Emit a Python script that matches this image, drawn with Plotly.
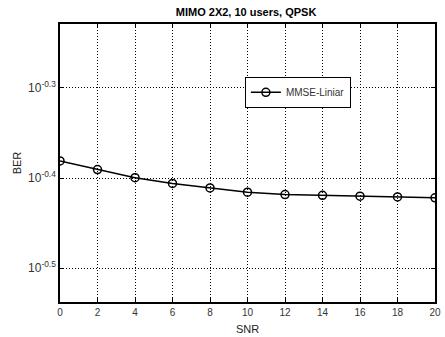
import plotly.graph_objects as go

snr = [0, 2, 4, 6, 8, 10, 12, 14, 16, 18, 20]
ber = [0.4159, 0.4068, 0.3984, 0.3926, 0.3881, 0.3839, 0.3816, 0.3809, 0.3800, 0.3793, 0.3784]

ytick_vals = [10 ** -0.5, 10 ** -0.4, 10 ** -0.3]
ytick_text = ["10<sup>-0.5</sup>", "10<sup>-0.4</sup>", "10<sup>-0.3</sup>"]
xtick_vals = list(range(0, 21, 2))

FONT = "Liberation Sans, Arial"

fig = go.Figure()
fig.add_trace(go.Scatter(
    x=snr, y=ber, mode="lines+markers", name="MMSE-Liniar",
    line=dict(color="black", width=1.5),
    marker=dict(symbol="circle-open", size=8, color="black", line=dict(width=1.5)),
))

axis_common = dict(
    showline=True, linecolor="black", linewidth=1.5, mirror="ticks",
    ticks="inside", ticklen=4, tickcolor="black",
    showgrid=True, gridcolor="black", griddash="1px,2px", gridwidth=0.8,
    zeroline=False, automargin=False,
)

fig.update_xaxes(
    range=[0, 20], tickvals=xtick_vals,
    tickfont=dict(family=FONT, size=10, color="#333"),
    title=dict(text="SNR", font=dict(family=FONT, size=11, color="#222"), standoff=9),
    **axis_common,
)
fig.update_yaxes(
    type="log", range=[-0.5376, -0.2291],
    tickvals=ytick_vals, ticktext=ytick_text,
    tickfont=dict(family=FONT, size=12, color="#333"),
    title=dict(text="BER", font=dict(family=FONT, size=11, color="#222"), standoff=4),
    **axis_common,
)

fig.update_layout(
    width=445, height=337,
    margin=dict(l=60, r=10, t=24, b=35),
    paper_bgcolor="white", plot_bgcolor="white",
    title=dict(text="<b>MIMO 2X2, 10 users, QPSK</b>", x=0.553, xanchor="center", y=0.963, yanchor="middle",
               font=dict(family=FONT, size=11, color="black")),
    showlegend=True,
    legend=dict(x=0.493, y=0.81, xanchor="left", yanchor="top",
                bordercolor="black", borderwidth=1, bgcolor="white",
                font=dict(family=FONT, size=10, color="#333"),
                itemwidth=30, tracegroupgap=0),
)

fig.write_html("out.html")
